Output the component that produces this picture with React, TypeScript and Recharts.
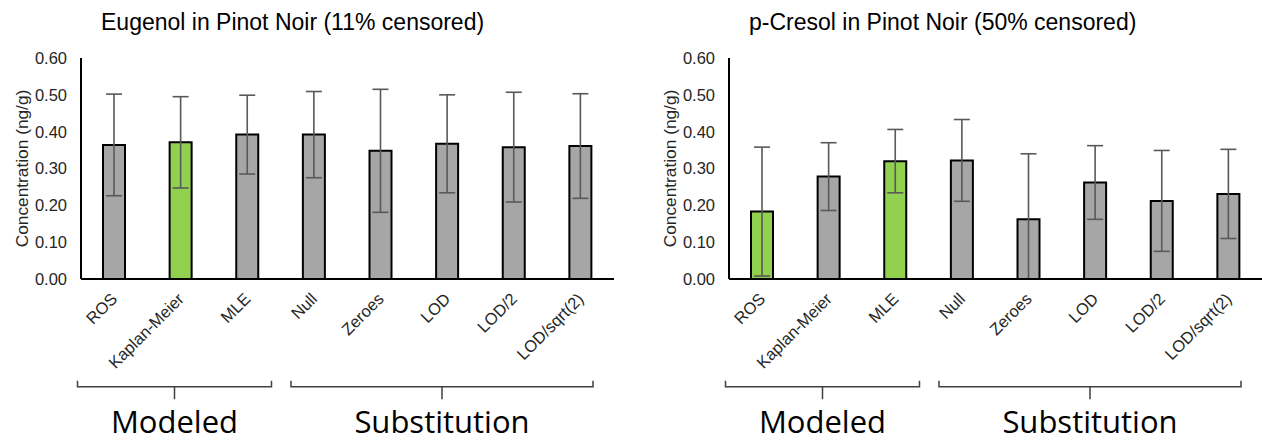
import React from "react";
import { Bar, BarChart, Cell, ErrorBar, XAxis, YAxis } from "recharts";

const methods = ["ROS", "Kaplan-Meier", "MLE", "Null", "Zeroes", "LOD", "LOD/2", "LOD/sqrt(2)"];

const eugenolMean = [0.364, 0.371, 0.392, 0.392, 0.348, 0.367, 0.358, 0.361];
const eugenolErr = [0.138, 0.124, 0.107, 0.117, 0.167, 0.133, 0.149, 0.142];
const eugenolGreen = [false, true, false, false, false, false, false, false];

const cresolMean = [0.183, 0.278, 0.32, 0.322, 0.162, 0.262, 0.212, 0.231];
const cresolErr = [0.175, 0.092, 0.086, 0.111, 0.178, 0.1, 0.137, 0.121];
const cresolGreen = [true, false, true, false, false, false, false, false];

const yTicks = [0, 0.1, 0.2, 0.3, 0.4, 0.5, 0.6];

const groups = [
  { name: "Modeled", from: -3.5, to: 190.5 },
  { name: "Substitution", from: 210, to: 512 },
];

const FONT = "'Liberation Sans', Arial, sans-serif";
const GRAY = "#a6a6a6";
const GREEN = "#92d050";

const AngledTick = (props: any) => {
  const { x, y, payload } = props;
  return (
    <g transform={`translate(${x + 4},${y + 21})`}>
      <text transform="rotate(-45)" textAnchor="end" fontSize={16.5} fontFamily={FONT} fill="#262626">
        {payload.value}
      </text>
    </g>
  );
};

const YLabel = (props: any) => {
  const { viewBox } = props;
  const cx = viewBox.x + 28;
  const cy = viewBox.y + viewBox.height / 2;
  return (
    <text
      x={cx}
      y={cy}
      transform={`rotate(-90, ${cx}, ${cy})`}
      textAnchor="middle"
      fontSize={17.3}
      fontFamily={FONT}
      fill="#262626"
    >
      Concentration (ng/g)
    </text>
  );
};

function Panel({ left, title, mean, err, green }: any) {
  const rows = methods.map((m, i) => ({
    name: m,
    value: mean[i],
    err: [Math.min(err[i], mean[i]), err[i]],
  }));
  const axisX = 81;
  return (
    <div style={{ position: "absolute", left, top: 0, width: 614, height: 441 }}>
      <BarChart width={614} height={441} data={rows} margin={{ top: 58, right: 0, left: 0, bottom: 82 }} barSize={22}>
        <XAxis
          dataKey="name"
          interval={0}
          height={80}
          tickLine={false}
          tickSize={0}
          tickMargin={0}
          axisLine={{ stroke: "#000", strokeWidth: 2 }}
          tick={<AngledTick />}
        />
        <YAxis
          width={81}
          domain={[0, 0.6]}
          ticks={yTicks}
          tickFormatter={(v: number) => v.toFixed(2)}
          tickLine={false}
          tickSize={0}
          tickMargin={14}
          axisLine={{ stroke: "#000", strokeWidth: 2 }}
          tick={{ fontSize: 16.5, fontFamily: FONT, fill: "#262626" }}
          label={<YLabel />}
        />
        <Bar dataKey="value" stroke="#000" strokeWidth={2} isAnimationActive={false}>
          {rows.map((r, i) => (
            <Cell key={r.name} fill={green[i] ? GREEN : GRAY} />
          ))}
          <ErrorBar dataKey="err" width={8} stroke="#595959" strokeWidth={1.6} direction="y" />
        </Bar>
      </BarChart>
      <svg width={614} height={441} style={{ position: "absolute", left: 0, top: 0, pointerEvents: "none" }}>
        <text x={axisX + 20} y={30} fontSize={23} fontFamily={FONT} fill="#000">
          {title}
        </text>
        {groups.map((g) => {
          const x1 = axisX + g.from;
          const x2 = axisX + g.to;
          const mid = (x1 + x2) / 2;
          return (
            <g key={g.name}>
              <path
                d={`M${x1} 380.7 V386.7 H${x2} V380.7 M${mid} 386.7 V399.3`}
                fill="none"
                stroke="#404040"
                strokeWidth={1.5}
              />
              <text x={mid} y={433} textAnchor="middle" fontSize={31} fontFamily="'Open Sans', sans-serif" fill="#000">
                {g.name}
              </text>
            </g>
          );
        })}
      </svg>
    </div>
  );
}

export default function App() {
  return (
    <div style={{ position: "absolute", left: 0, top: 0, width: 1262, height: 441, overflow: "hidden", background: "#fff" }}>
      <Panel left={0} title="Eugenol in Pinot Noir (11% censored)" mean={eugenolMean} err={eugenolErr} green={eugenolGreen} />
      <Panel left={648} title="p-Cresol in Pinot Noir (50% censored)" mean={cresolMean} err={cresolErr} green={cresolGreen} />
    </div>
  );
}
